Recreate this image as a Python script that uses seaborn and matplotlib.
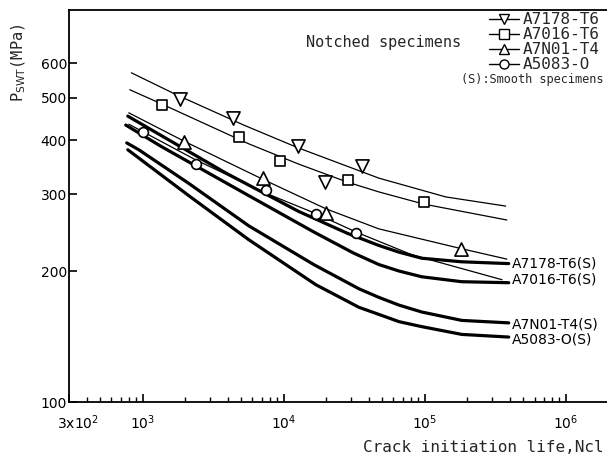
import numpy as np
import pandas as pd
import matplotlib
matplotlib.use("Agg")
import matplotlib.pyplot as plt
import matplotlib.transforms as mtransforms
import seaborn as sns
from matplotlib.lines import Line2D
from matplotlib.ticker import LogLocator, NullLocator, NullFormatter

# ---------------- data ----------------
series = ["A7178-T6", "A7016-T6", "A7N01-T4", "A5083-O"]

# notched specimens: experimental points
pts_7178_N = [1850, 4350, 12600, 19500, 35600]
pts_7178_S = [497, 450, 388, 320, 348]
pts_7016_N = [1360, 4850, 9420, 28400, 98000]
pts_7016_S = [482, 406, 358, 324, 288]
pts_7N01_N = [1950, 7100, 20000, 181000]
pts_7N01_S = [396, 328, 272, 225]
pts_5083_N = [1000, 2390, 7450, 16900, 32700]
pts_5083_S = [418, 352, 307, 270, 244]

# notched specimens: fitted curves (thin)
fit_7178_N = [830, 1740, 5200, 12600, 47200, 141000, 375000]
fit_7178_S = [571, 508, 433, 384, 327, 296, 282]
fit_7016_N = [809, 1364, 5650, 12800, 28400, 47200, 98400, 382000]
fit_7016_S = [522, 484, 392, 352, 320, 304, 285, 262]
fit_7N01_N = [796, 1950, 7100, 19900, 47200, 183000, 382000]
fit_7N01_S = [462, 398, 325, 278, 250, 225, 213]
fit_5083_N = [796, 2380, 7450, 16900, 32400, 80900, 353000]
fit_5083_S = [435, 360, 302, 271, 246, 218, 191]

# smooth specimens: curves (thick)
sm_7178_N = [783, 3880, 12800, 28400, 47200, 65600, 95200, 183000, 394000]
sm_7178_S = [454, 336, 274, 244, 229, 221, 214, 210, 208]
sm_7016_N = [758, 1364, 5650, 16300, 31200, 47200, 65600, 95200, 183000, 394000]
sm_7016_S = [433, 386, 298, 246, 220, 207, 200, 194, 189, 188]
sm_7N01_N = [770, 937, 2120, 5650, 16300, 34200, 47200, 65600, 95200, 183000, 394000]
sm_7N01_S = [394, 380, 318, 254, 207, 182, 174, 167, 161, 154, 152]
sm_5083_N = [783, 2120, 5650, 16900, 34200, 47200, 65600, 95200, 183000, 394000]
sm_5083_S = [380, 298, 236, 186, 165, 159, 153, 149, 143, 141]

smooth_labels = ["A7178-T6(S)", "A7016-T6(S)", "A7N01-T4(S)", "A5083-O(S)"]
smooth_label_S = [208, 191, 151, 139]

y_ticks = [100, 200, 300, 400, 500, 600]
x_ticks = [300, 1e3, 1e4, 1e5, 1e6]
x_tick_labels = ["3x10$^2$", "10$^3$", "10$^4$", "10$^5$", "10$^6$"]

# ---------------- styling ----------------
sns.set_style("ticks")
plt.rcParams["font.family"] = ["DejaVu Sans"]
plt.rcParams["mathtext.fontset"] = "dejavusans"
MONO = "DejaVu Sans Mono"

fig = plt.figure(figsize=(6.07, 4.57), dpi=100)
ax = fig.add_axes([69 / 607, 55 / 457, 538 / 607, 392 / 457])
ax.set_xscale("log")
ax.set_yscale("log")

markers = ["v", "s", "^", "o"]
msizes = [90, 62, 90, 50]
pts = [(pts_7178_N, pts_7178_S), (pts_7016_N, pts_7016_S),
       (pts_7N01_N, pts_7N01_S), (pts_5083_N, pts_5083_S)]
fits = [(fit_7178_N, fit_7178_S), (fit_7016_N, fit_7016_S),
        (fit_7N01_N, fit_7N01_S), (fit_5083_N, fit_5083_S)]
smooths = [(sm_7178_N, sm_7178_S), (sm_7016_N, sm_7016_S),
           (sm_7N01_N, sm_7N01_S), (sm_5083_N, sm_5083_S)]

for (n, s) in fits:
    df = pd.DataFrame({"N": n, "S": s})
    sns.lineplot(data=df, x="N", y="S", ax=ax, color="black", lw=0.9,
                 sort=False, estimator=None, zorder=2)

for (n, s), lab, ly in zip(smooths, smooth_labels, smooth_label_S):
    df = pd.DataFrame({"N": n, "S": s})
    sns.lineplot(data=df, x="N", y="S", ax=ax, color="black", lw=2.3,
                 sort=False, estimator=None, zorder=3)
    ax.text(n[-1] * 1.05, ly, lab, ha="left", va="center", fontsize=10,
            color="black")

for (n, s), m, ms in zip(pts, markers, msizes):
    df = pd.DataFrame({"N": n, "S": s})
    sns.scatterplot(data=df, x="N", y="S", ax=ax, marker=m, s=ms,
                    color="white", edgecolor="black", linewidth=1.2,
                    zorder=5)

ax.set_xlim(300, 1.96e6)
ax.set_ylim(100, 796)

ax.set_yticks(y_ticks)
ax.set_yticklabels([str(v) for v in y_ticks])
ax.yaxis.set_minor_locator(NullLocator())
ax.set_xticks(x_ticks)
ax.set_xticklabels(x_tick_labels)
ax.xaxis.set_minor_locator(LogLocator(base=10, subs=np.arange(2, 10), numticks=30))
ax.xaxis.set_minor_formatter(NullFormatter())

ax.tick_params(axis="both", which="both", direction="in", top=False,
               right=False, colors="black", labelsize=10)
ax.tick_params(axis="y", which="major", length=6, width=1.2, pad=1.5)
ax.tick_params(axis="x", which="major", length=6, width=1.2, pad=8)
ax.tick_params(axis="x", which="minor", length=3.5, width=1.0)

# shift the "3x10^2" label slightly right, as in the reference
first = ax.get_xticklabels()[0]
first.set_transform(first.get_transform() +
                    mtransforms.ScaledTranslation(9 / 100, 0, fig.dpi_scale_trans))

for side in ["left", "bottom", "top"]:
    ax.spines[side].set_linewidth(1.3)
    ax.spines[side].set_color("black")
ax.spines["right"].set_visible(False)

ax.set_xlabel("Crack initiation life,Ncl", fontsize=11.5, family=MONO,
              loc="right")
ax.xaxis.label.set_va("center")
ax.xaxis.set_label_coords((604 - 69) / 538, -(447 - 402) / 392)
ax.set_ylabel("P$_{\\mathrm{SWT}}$(MPa)", fontsize=11, family=MONO)
ax.yaxis.label.set_va("center")
ax.yaxis.label.set_ha("center")
ax.yaxis.set_label_coords((19 - 69) / 538, (402 - 63) / 392)

ax.text((384 - 69) / 538, (402 - 43) / 392, "Notched specimens",
        transform=ax.transAxes, ha="center", va="center", fontsize=11,
        family=MONO)
ax.text((532 - 69) / 538, (402 - 80) / 392, "(S):Smooth specimens",
        transform=ax.transAxes, ha="center", va="center", fontsize=8.6,
        family=MONO)

handles = [Line2D([0], [0], color="black", lw=1.0, marker=m, markersize=6.5,
                  markerfacecolor="white", markeredgecolor="black",
                  markeredgewidth=1.0) for m in markers]
leg_labels = ["A7178-T6", "A7016-T6", "A7N01-T4", "A5083-O"]
ax.legend(handles, leg_labels, loc="upper right",
          bbox_to_anchor=((602 - 69) / 538, 1.0), frameon=False,
          handlelength=1.9, handletextpad=0.2, labelspacing=0.0,
          borderaxespad=0, borderpad=0.15,
          prop={"family": MONO, "size": 11.5})

fig.savefig("out.png", dpi=100)
